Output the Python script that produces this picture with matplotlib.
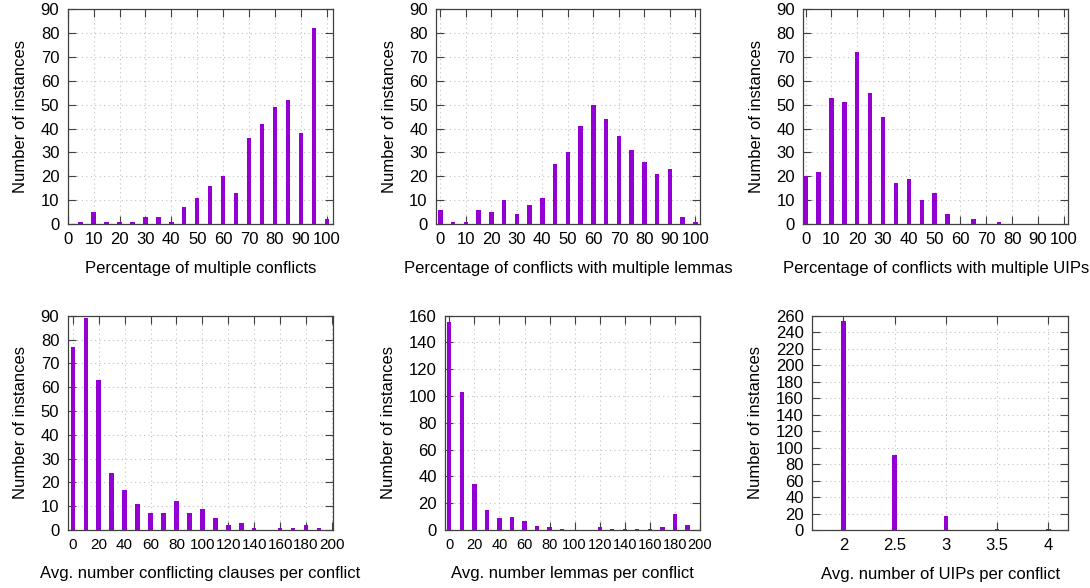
import matplotlib
matplotlib.use("Agg")
import matplotlib.pyplot as plt

plt.rcParams['font.family'] = ['Liberation Sans', 'DejaVu Sans']

# ---------------- data ----------------
pct_bins = [0, 5, 10, 15, 20, 25, 30, 35, 40, 45, 50, 55, 60, 65, 70, 75, 80, 85, 90, 95, 100]
multi_conflicts = [0, 1, 5, 1, 1, 1, 3, 3, 1, 7, 11, 16, 20, 13, 36, 42, 49, 52, 38, 82, 2]
multi_lemmas = [6, 1, 1, 6, 5, 10, 4, 8, 11, 25, 30, 41, 50, 44, 37, 31, 26, 21, 23, 3, 1]
multi_uips = [20, 22, 53, 51, 72, 55, 45, 17, 19, 10, 13, 4, 0, 2, 0, 1, 0, 0, 0, 0, 0]

avg_bins = [0, 10, 20, 30, 40, 50, 60, 70, 80, 90, 100, 110, 120, 130, 140, 150, 160, 170, 180, 190]
conflicting_clauses = [77, 89, 63, 24, 17, 11, 7, 7, 12, 7, 9, 5, 2, 3, 1, 0, 1, 1, 2, 1]
lemmas_per_conflict = [155, 103, 34, 15, 9, 10, 7, 3, 2, 1, 0, 0, 2, 1, 1, 1, 1, 2, 12, 4]

uip_bins = [2, 2.5, 3, 3.5, 4]
uips_per_conflict = [253, 91, 17, 1, 1]

pct_ticks = [0, 10, 20, 30, 40, 50, 60, 70, 80, 90, 100]
avg_ticks = [0, 20, 40, 60, 80, 100, 120, 140, 160, 180, 200]
uip_ticks = [2, 2.5, 3, 3.5, 4]
uip_tick_labels = ["2", "2.5", "3", "3.5", "4"]

xlabels = ["Percentage of multiple conflicts",
           "Percentage of conflicts with multiple lemmas",
           "Percentage of conflicts with multiple UIPs",
           "Avg. number conflicting clauses per conflict",
           "Avg. number lemmas per conflict",
           "Avg. number of UIPs per conflict"]
ylabel = "Number of instances"

# ---------------- layout ----------------
W, H = 1090, 588
fig = plt.figure(figsize=(W / 100, H / 100), dpi=100)

def add_ax(l, t, r, b):
    return fig.add_axes([l / W, 1 - b / H, (r - l) / W, (b - t) / H])

BAR = '#9400D3'
FRAME = '#404040'
TXT = '#000000'

panels = [
    dict(box=(67.7, 9.3, 332.7, 224), x=pct_bins, y=multi_conflicts, w=1.7, xfs=12,
         xlim=(0, 102.3), xt=pct_ticks, xtl=None, ylim=(0, 90), yt=range(0, 91, 10)),
    dict(box=(436, 9.3, 700, 224), x=pct_bins, y=multi_lemmas, w=1.7, xfs=12,
         xlim=(-1.7, 101.8), xt=pct_ticks, xtl=None, ylim=(0, 90), yt=range(0, 91, 10)),
    dict(box=(803.3, 9.3, 1068.3, 224), x=pct_bins, y=multi_uips, w=1.7, xfs=12,
         xlim=(-0.9, 101.8), xt=pct_ticks, xtl=None, ylim=(0, 90), yt=range(0, 91, 10)),
    dict(box=(67.7, 315.7, 332.7, 530), x=avg_bins, y=conflicting_clauses, w=3.4, xfs=11,
         xlim=(-3.9, 200.5), xt=avg_ticks, xtl=None, ylim=(0, 90), yt=range(0, 91, 10)),
    dict(box=(445, 315.7, 700, 530), x=avg_bins, y=lemmas_per_conflict, w=3.4, xfs=10.5,
         xlim=(-3.45, 199.6), xt=avg_ticks, xtl=None, ylim=(0, 160), yt=range(0, 161, 20)),
    dict(box=(812.3, 315.7, 1068.3, 530), x=uip_bins, y=uips_per_conflict, w=0.045, xfs=12,
         xlim=(1.697, 4.195), xt=uip_ticks, xtl=uip_tick_labels, ylim=(0, 260), yt=range(0, 261, 20)),
]

for p, xl in zip(panels, xlabels):
    ax = add_ax(*p['box'])
    ax.bar(p['x'], p['y'], width=p['w'], color=BAR, linewidth=0, zorder=3)
    ax.set_xlim(*p['xlim'])
    ax.set_ylim(*p['ylim'])
    ax.set_xticks(p['xt'])
    if p['xtl'] is not None:
        ax.set_xticklabels(p['xtl'])
    ax.set_yticks(list(p['yt']))
    ax.grid(True, linestyle=(0, (1, 3)), color='#c0c0c0', linewidth=0.8, zorder=0)
    ax.tick_params(direction='in', length=5.5, width=0.8, color=FRAME,
                   top=True, right=True, labelsize=12, labelcolor=TXT)
    ax.tick_params(axis='x', pad=6, labelsize=p['xfs'])
    ax.tick_params(axis='y', pad=6)
    for s in ax.spines.values():
        s.set_color(FRAME)
        s.set_linewidth(0.9)
    ax.set_xlabel(xl, fontsize=12, labelpad=10, color=TXT)
    ax.set_ylabel(ylabel, fontsize=12, labelpad=9, color=TXT)

fig.savefig("out.png", dpi=100)
